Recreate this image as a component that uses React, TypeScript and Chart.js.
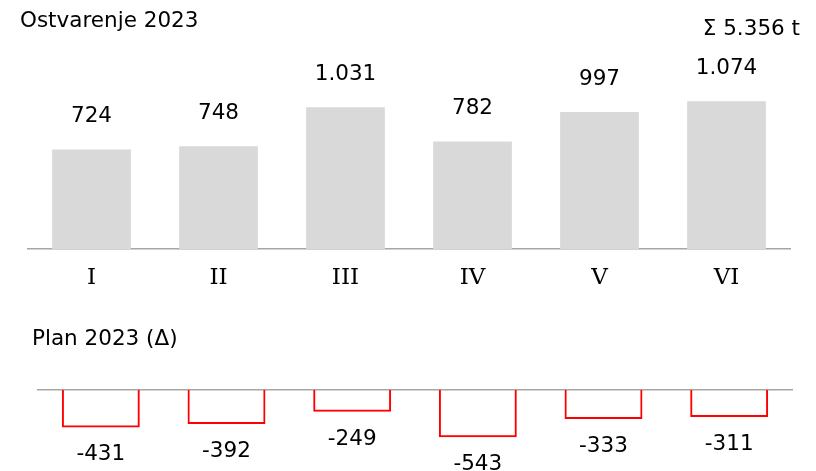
import React, { useEffect, useRef } from "react";
import { Chart, registerables } from "chart.js";

Chart.register(...registerables);

const categories = ["I", "II", "III", "IV", "V", "VI"];
const actualValues = [724, 748, 1031, 782, 997, 1074];
const planDeltaValues = [-431, -392, -249, -543, -333, -311];
const topTitle = "Ostvarenje 2023";
const bottomTitle = "Plan 2023 (Δ)";
const totalUnit = "t";

const SANS = "'DejaVu Sans', Verdana, sans-serif";
const SERIF = "'DejaVu Serif', serif";
const TEXT_SIZE = 21.5;

const fmt = (v: number) => {
  const s = Math.abs(v)
    .toString()
    .replace(/\B(?=(\d{3})+(?!\d))/g, ".");
  return (v < 0 ? "-" : "") + s;
};

const total = actualValues.reduce((a, b) => a + b, 0);

export default function App() {
  const topRef = useRef<HTMLCanvasElement | null>(null);
  const botRef = useRef<HTMLCanvasElement | null>(null);

  useEffect(() => {
    document.body.style.margin = "0";
    const topLabels = {
      id: "topLabels",
      afterDatasetsDraw(chart: any) {
        const ctx = chart.ctx;
        ctx.save();
        ctx.fillStyle = "#000";
        ctx.font = `${TEXT_SIZE}px ${SANS}`;
        ctx.textAlign = "center";
        ctx.textBaseline = "alphabetic";
        const meta = chart.getDatasetMeta(0);
        meta.data.forEach((el: any, i: number) => {
          ctx.fillText(fmt(actualValues[i]), el.x, el.y - 27);
        });
        ctx.textAlign = "left";
        ctx.fillText(topTitle, 20, 27);
        ctx.textAlign = "right";
        ctx.fillText(`Σ ${fmt(total)} ${totalUnit}`, 800, 35);
        ctx.restore();
      },
    };
    const botLabels = {
      id: "botLabels",
      afterDatasetsDraw(chart: any) {
        const ctx = chart.ctx;
        ctx.save();
        ctx.fillStyle = "#000";
        ctx.font = `${TEXT_SIZE}px ${SANS}`;
        ctx.textAlign = "center";
        ctx.textBaseline = "alphabetic";
        const meta = chart.getDatasetMeta(0);
        meta.data.forEach((el: any, i: number) => {
          ctx.fillText(fmt(planDeltaValues[i]), el.x, el.y + 33);
        });
        ctx.textAlign = "left";
        ctx.fillText(bottomTitle, 32, 45);
        ctx.restore();
      },
    };

    const top = new Chart(topRef.current!, {
      type: "bar",
      data: {
        labels: categories,
        datasets: [
          {
            data: actualValues,
            backgroundColor: "#d9d9d9",
            borderWidth: 0,
            categoryPercentage: 1,
            barPercentage: 0.62,
          },
        ],
      },
      options: {
        responsive: false,
        animation: false,
        devicePixelRatio: 1,
        layout: { padding: { left: 28, right: 26, top: 56.5, bottom: 0 } },
        plugins: { legend: { display: false }, tooltip: { enabled: false }, title: { display: false } },
        scales: {
          x: {
            grid: { display: false, drawTicks: false },
            border: { display: true, color: "#a6a6a6", width: 1.5 },
            ticks: { color: "#000", font: { family: SERIF, size: 23 }, padding: 15 },
            afterFit: (s: any) => {
              s.height = 51;
            },
          },
          y: { display: false, min: 0, max: 1400 },
        },
      },
      plugins: [topLabels],
    } as any);

    const bot = new Chart(botRef.current!, {
      type: "bar",
      data: {
        labels: categories,
        datasets: [
          {
            data: planDeltaValues,
            backgroundColor: "rgba(255,255,255,0)",
            borderColor: "#ff0000",
            borderWidth: 2,
            categoryPercentage: 1,
            barPercentage: 0.62,
          },
        ],
      },
      options: {
        responsive: false,
        animation: false,
        devicePixelRatio: 1,
        layout: { padding: { left: 38, right: 24, top: 90, bottom: 11.4 } },
        plugins: { legend: { display: false }, tooltip: { enabled: false }, title: { display: false } },
        scales: {
          x: {
            position: "top",
            grid: { display: false, drawTicks: false },
            border: { display: true, color: "#a6a6a6", width: 1.5 },
            ticks: { display: false },
            afterFit: (s: any) => {
              s.height = 0;
            },
          },
          y: { display: false, min: -800, max: 0 },
        },
      },
      plugins: [botLabels],
    } as any);

    return () => {
      top.destroy();
      bot.destroy();
    };
  }, []);

  return (
    <div style={{ position: "relative", width: 816, height: 471, background: "#fff" }}>
      <canvas ref={topRef} width={816} height={300} style={{ position: "absolute", left: 0, top: 0 }} />
      <canvas ref={botRef} width={816} height={171} style={{ position: "absolute", left: 0, top: 300 }} />
    </div>
  );
}
